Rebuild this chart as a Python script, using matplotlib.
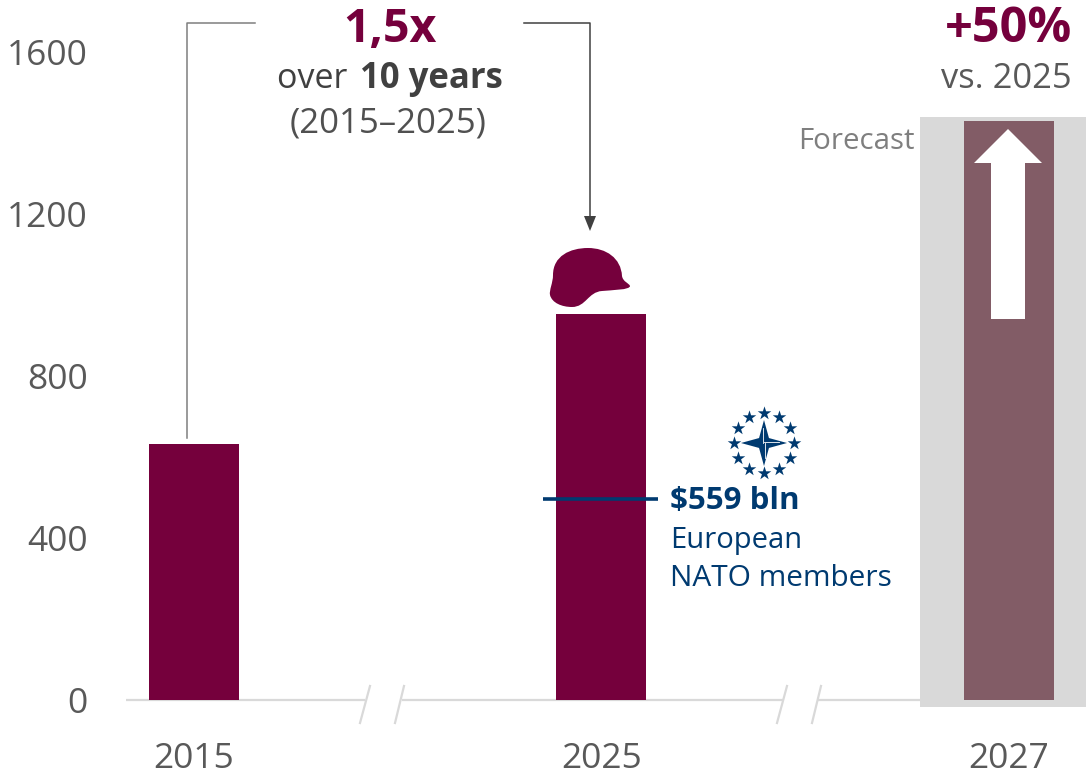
import numpy as np
from matplotlib import pyplot as plt
from matplotlib.patches import PathPatch, Polygon, Rectangle
from matplotlib.path import Path
from matplotlib.transforms import Affine2D

years = ["2015", "2025", "2027"]
spending = [632, 953, 1430]
y_ticks = [0, 400, 800, 1200, 1600]

plt.rcParams["font.family"] = ["Open Sans", "DejaVu Sans"]

maroon = "#75003c"
forecast_col = "#825c66"
navy = "#003a70"
grey_txt = "#595959"
dark_txt = "#404040"
axis_col = "#d9d9d9"

fig = plt.figure(figsize=(10.87, 7.75), dpi=100)
ax = fig.add_axes([0, 0, 1, 1])
ax.set_xlim(-193.8 / 407.5, (1087 - 193.8) / 407.5)
ax.set_ylim(-75 / 0.405, 700 / 0.405)
ax.axis("off")

# pixel coordinates of the picture, for the annotations
pix = Affine2D().scale(1, -1).translate(0, 775)

# forecast background
ax.add_patch(Rectangle((920, 117), 166, 590, transform=pix, fc="#d9d9d9", ec="none", zorder=1))

# bars
colors = [maroon, maroon, forecast_col]
ax.bar(range(3), spending, width=90 / 407.5, color=colors, zorder=2)

# tick labels
for t in y_ticks:
    ax.text(-0.26, t, str(t), ha="right", va="center_baseline", fontsize=25.5, color=grey_txt)
for i, y in enumerate(years):
    ax.text(i, -168, y, ha="center", va="baseline", fontsize=25.5, color=grey_txt)

# axis line with breaks
for x0, x1 in [(126, 365), (402, 783), (818, 920)]:
    ax.plot([x0, x1], [700, 700], transform=pix, color=axis_col, lw=1.6, zorder=1, solid_capstyle="butt")
for x0, x1 in [(360, 370), (395, 404), (777, 787), (812, 821)]:
    ax.plot([x0, x1], [723, 686], transform=pix, color=axis_col, lw=1.6, zorder=1)

# brackets
ax.plot([255, 187, 187], [23, 23, 438], transform=pix, color="#7f7f7f", lw=1.1, zorder=3)
ax.plot([524, 590, 590], [23, 23, 220], transform=pix, color="#404040", lw=1.1, zorder=3)
ax.add_patch(Polygon([(584, 216), (596, 216), (590, 231)], transform=pix, fc="#404040", ec="none", zorder=3))

# top texts
ax.text(390, 42, "1,5x", transform=pix, fontsize=33.5, fontweight="bold", color=maroon, ha="center", va="baseline")
ax.text(277, 88, "over ", transform=pix, fontsize=24.5, color=dark_txt, ha="left", va="baseline")
ax.text(360, 88, "10 years", transform=pix, fontsize=25, fontweight="bold", color=dark_txt, ha="left", va="baseline")
ax.text(388, 132, "(2015–2025)", transform=pix, fontsize=25, color="#505050", ha="center", va="baseline")
ax.text(1072, 42, "+50%", transform=pix, fontsize=35, fontweight="bold", color=maroon, ha="right", va="baseline")
ax.text(1072, 88, "vs. 2025", transform=pix, fontsize=24.8, color=grey_txt, ha="right", va="baseline")
ax.text(915, 149, "Forecast", transform=pix, fontsize=21.2, color="#7f7f7f", ha="right", va="baseline")

# white arrow
arrow_pts = [(1008, 129), (1042, 163), (1025, 163), (1025, 319), (991, 319), (991, 163), (974, 163)]
ax.add_patch(Polygon(arrow_pts, transform=pix, fc="white", ec="none", zorder=3))

# helmet
helmet = [
    (Path.MOVETO, (588, 248)),
    (Path.CURVE4, (570, 248)), (Path.CURVE4, (553, 256)), (Path.CURVE4, (553, 275)),
    (Path.CURVE4, (553, 283)), (Path.CURVE4, (549, 290)), (Path.CURVE4, (550, 295)),
    (Path.CURVE4, (552, 303)), (Path.CURVE4, (562, 307)), (Path.CURVE4, (572, 307)),
    (Path.CURVE4, (586, 307)), (Path.CURVE4, (588, 292)), (Path.CURVE4, (602, 291)),
    (Path.CURVE4, (612, 290)), (Path.CURVE4, (630, 290)), (Path.CURVE4, (630, 286)),
    (Path.CURVE4, (629, 283)), (Path.CURVE4, (623, 282)), (Path.CURVE4, (622, 276)),
    (Path.CURVE4, (621, 258)), (Path.CURVE4, (606, 248)), (Path.CURVE4, (588, 248)),
    (Path.CLOSEPOLY, (588, 248)),
]
codes, verts = zip(*helmet)
ax.add_patch(PathPatch(Path(verts, codes), transform=pix, fc=maroon, ec="none", zorder=3))

# NATO line and label
ax.plot([543, 658], [499, 499], transform=pix, color=navy, lw=2.6, zorder=4, solid_capstyle="butt")
ax.text(670, 509, "$559 bln", transform=pix, fontsize=22.5, fontweight="bold", color=navy, ha="left", va="baseline",
        parse_math=False)
ax.text(670, 548, "European", transform=pix, fontsize=21, color=navy, ha="left", va="baseline")
ax.text(670, 586, "NATO members", transform=pix, fontsize=21.5, color=navy, ha="left", va="baseline")

# NATO emblem
cx, cy = 764, 443
ang = np.deg2rad(np.arange(0, 360, 30))
ax.scatter(cx + 30 * np.cos(ang), cy + 30 * np.sin(ang), transform=pix, marker="*", s=105, color=navy, lw=0, zorder=4)
r_long, r_short = 23, 7
star = []
for k in range(8):
    a = np.deg2rad(45 * k - 90)
    r = r_long if k % 2 == 0 else r_short
    star.append((cx + r * np.cos(a), cy + r * np.sin(a)))
ax.add_patch(Polygon(star, transform=pix, fc=navy, ec="none", zorder=4))
ax.plot([cx, cx + 15], [cy - 1, cy - 1], transform=pix, color="white", lw=0.6, zorder=5)
ax.plot([cx + 1, cx + 1], [cy, cy + 15], transform=pix, color="white", lw=0.6, zorder=5)
ax.plot([cx - 1, cx - 1], [cy - 15, cy], transform=pix, color="white", lw=0.6, zorder=5)

fig.savefig("out.png", dpi=100)
